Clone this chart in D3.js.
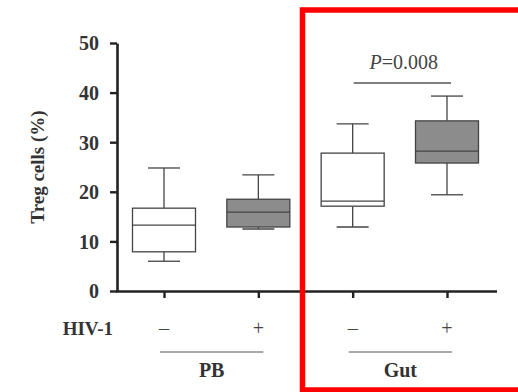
<!DOCTYPE html>
<html>
<head>
<meta charset="utf-8">
<script src="https://cdn.jsdelivr.net/npm/d3@7"></script>
<style>
  body { margin: 0; background: #fff; }
  svg { display: block; }
</style>
</head>
<body>
<svg id="chart"></svg>
<script>
const groups = ["PB", "PB", "Gut", "Gut"];
const hiv = ["\u2013", "+", "\u2013", "+"];
const whiskerLow = [6.0, 12.5, 12.9, 19.4];
const q1 = [7.9, 12.9, 17.1, 25.8];
const median = [13.3, 15.9, 18.1, 28.2];
const q3 = [16.7, 18.5, 27.8, 34.3];
const whiskerHigh = [24.8, 23.4, 33.7, 39.3];
const fills = ["#fff", "#8c8c8c", "#fff", "#8c8c8c"];
const yTicks = [0, 10, 20, 30, 40, 50];
const pLabel = "0.008";

const width = 518, height = 392;
const serif = "'Liberation Serif', 'Times New Roman', serif";

const svg = d3.select("#chart")
	.attr("width", width)
	.attr("height", height);

const idx = d3.range(groups.length);
const x = d3.scalePoint(idx, [164, 447]);
const y = d3.scaleLinear([0, 50], [291, 43]);
const boxW = 63, capW = 32;

// y axis
svg.append("g")
	.attr("transform", "translate(117,0)")
	.call(d3.axisLeft(y).tickValues(yTicks).tickSize(7).tickSizeOuter(0))
	.call(g => g.select(".domain").attr("stroke", "#222").attr("stroke-width", 2.6))
	.call(g => g.selectAll(".tick line").attr("stroke", "#222").attr("stroke-width", 2.4))
	.call(g => g.selectAll(".tick text")
		.attr("x", -18)
		.attr("dy", "0.34em")
		.attr("fill", "#333")
		.style("font", `bold 20px ${serif}`));

// x axis
svg.append("g")
	.attr("transform", `translate(0,${y(0)})`)
	.call(d3.axisBottom(x).tickSize(7).tickSizeOuter(0).tickFormat(""))
	.call(g => g.select(".domain").attr("d", "M116,0.5H497").attr("stroke", "#222").attr("stroke-width", 2.6))
	.call(g => g.selectAll(".tick line").attr("stroke", "#222").attr("stroke-width", 2.4));

// y label
svg.append("text")
	.attr("transform", `translate(44,${(y(0) + y(50)) / 2}) rotate(-90)`)
	.attr("text-anchor", "middle")
	.attr("fill", "#333")
	.style("font", `bold 19px ${serif}`)
	.text("Treg cells (%)");

// boxes
const box = svg.append("g")
	.attr("stroke", "#444")
	.attr("stroke-width", 1.3)
	.selectAll("g")
	.data(idx)
	.join("g");

box.append("line")
	.attr("x1", i => x(i)).attr("x2", i => x(i))
	.attr("y1", i => y(whiskerHigh[i])).attr("y2", i => y(q3[i]));
box.append("line")
	.attr("x1", i => x(i)).attr("x2", i => x(i))
	.attr("y1", i => y(q1[i])).attr("y2", i => y(whiskerLow[i]));
box.append("line")
	.attr("x1", i => x(i) - capW / 2).attr("x2", i => x(i) + capW / 2)
	.attr("y1", i => y(whiskerHigh[i])).attr("y2", i => y(whiskerHigh[i]));
box.append("line")
	.attr("x1", i => x(i) - capW / 2).attr("x2", i => x(i) + capW / 2)
	.attr("y1", i => y(whiskerLow[i])).attr("y2", i => y(whiskerLow[i]));
box.append("rect")
	.attr("x", i => x(i) - boxW / 2)
	.attr("y", i => y(q3[i]))
	.attr("width", boxW)
	.attr("height", i => y(q1[i]) - y(q3[i]))
	.attr("fill", i => fills[i]);
box.append("line")
	.attr("x1", i => x(i) - boxW / 2).attr("x2", i => x(i) + boxW / 2)
	.attr("y1", i => y(median[i])).attr("y2", i => y(median[i]));

// HIV-1 row
svg.append("text")
	.attr("x", 113).attr("y", 335)
	.attr("text-anchor", "end")
	.attr("fill", "#333")
	.style("font", `bold 19px ${serif}`)
	.text("HIV-1");
svg.append("g")
	.selectAll("text")
	.data(idx)
	.join("text")
	.attr("x", i => x(i)).attr("y", 335)
	.attr("text-anchor", "middle")
	.attr("fill", "#444")
	.style("font", `20px ${serif}`)
	.text(i => hiv[i]);

// group labels
const groupNames = Array.from(new Set(groups));
groupNames.forEach(name => {
	const members = idx.filter(i => groups[i] === name);
	const x0 = x(members[0]) - 4, x1 = x(members[members.length - 1]) + 5;
	svg.append("line")
		.attr("x1", x0).attr("x2", x1)
		.attr("y1", 352).attr("y2", 352)
		.attr("stroke", "#555").attr("stroke-width", 1);
	svg.append("text")
		.attr("x", (x0 + x1) / 2).attr("y", 377)
		.attr("text-anchor", "middle")
		.attr("fill", "#333")
		.style("font", `bold 20px ${serif}`)
		.text(name);
});

// significance
svg.append("line")
	.attr("x1", x(2) + 1).attr("x2", x(3) + 4)
	.attr("y1", 83).attr("y2", 83)
	.attr("stroke", "#555").attr("stroke-width", 1.3);
const pt = svg.append("text")
	.attr("x", (x(2) + x(3)) / 2 + 4).attr("y", 69)
	.attr("text-anchor", "middle")
	.attr("fill", "#444")
	.style("font", `20px ${serif}`);
pt.append("tspan").attr("font-style", "italic").text("P");
pt.append("tspan").text("=" + pLabel);

// red highlight frame
svg.append("rect")
	.attr("x", 302.5).attr("y", 10)
	.attr("width", 240).attr("height", 380)
	.attr("fill", "none")
	.attr("stroke", "#ff0000")
	.attr("stroke-width", 5.5);
</script>
</body>
</html>
